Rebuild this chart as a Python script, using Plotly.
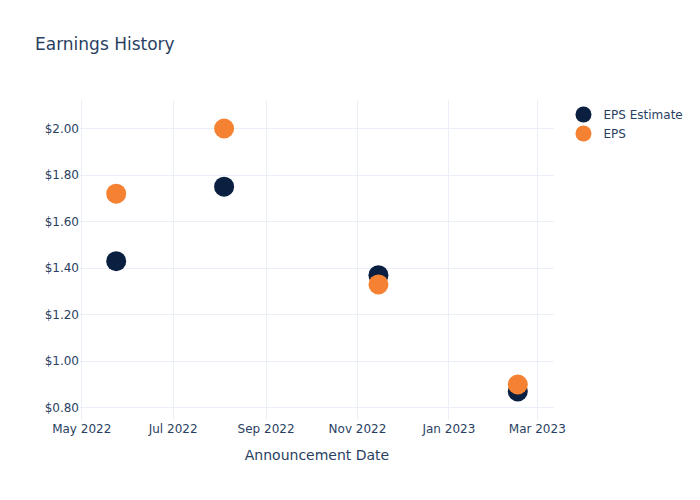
import plotly.graph_objects as go

dates = ["2022-05-24", "2022-08-04", "2022-11-15", "2023-02-16"]
eps_estimate = [1.43, 1.75, 1.37, 0.87]
eps_actual = [1.72, 2.00, 1.33, 0.90]

fig = go.Figure()
fig.add_trace(go.Scatter(x=dates, y=eps_estimate, mode="markers", name="EPS Estimate",
                         marker=dict(color="#0b1f40", size=20)))
fig.add_trace(go.Scatter(x=dates, y=eps_actual, mode="markers", name="EPS",
                         marker=dict(color="#f58233", size=20)))
fig.update_layout(
    template="plotly_white",
    width=700, height=500,
    font=dict(family="DejaVu Sans"),
    title=dict(text="Earnings History"),
    xaxis=dict(title=dict(text="Announcement Date")),
    yaxis=dict(tickprefix="$", tickformat=".2f"),
)
fig.write_html("out.html")
